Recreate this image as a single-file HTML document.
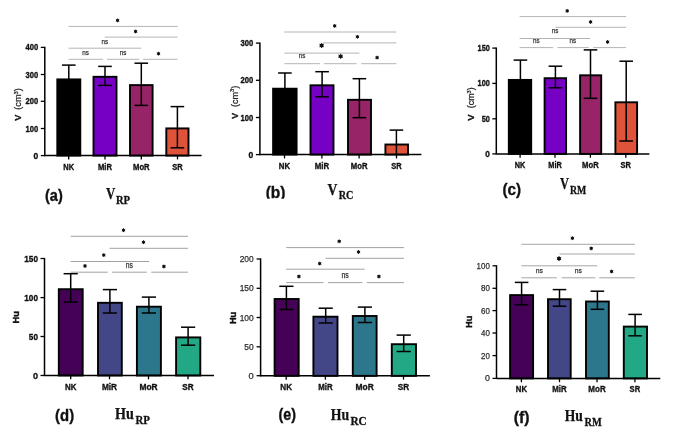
<!DOCTYPE html>
<html><head><meta charset="utf-8"><title>Bar charts</title>
<style>
html,body{margin:0;padding:0;background:#fff;}
body{width:685px;height:441px;overflow:hidden;font-family:"Liberation Sans", sans-serif;}
svg{display:block;will-change:transform;filter:blur(0.35px);}
</style></head><body>
<svg width="685" height="441" viewBox="0 0 685 441">
<defs><clipPath id="clipb"><rect x="250" y="170" width="50" height="28.7"/></clipPath></defs>
<rect x="0" y="0" width="685" height="441" fill="#ffffff"/>
<g>
<rect x="57.3" y="79.4" width="23" height="76.2" fill="#000000" stroke="#000" stroke-width="1.9"/>
<rect x="93.5" y="76.8" width="23" height="78.8" fill="#7600c3" stroke="#000" stroke-width="1.9"/>
<rect x="130" y="85.1" width="22.6" height="70.5" fill="#962466" stroke="#000" stroke-width="1.9"/>
<rect x="166.3" y="128.4" width="22.2" height="27.2" fill="#df533a" stroke="#000" stroke-width="1.9"/>
<line x1="68.8" y1="65.1" x2="68.8" y2="155.6" stroke="#000" stroke-width="1.5" stroke-linecap="butt"/>
<line x1="62" y1="65.1" x2="75.6" y2="65.1" stroke="#000" stroke-width="1.5" stroke-linecap="butt"/>
<line x1="105" y1="66.4" x2="105" y2="85.4" stroke="#000" stroke-width="1.5" stroke-linecap="butt"/>
<line x1="98.2" y1="66.4" x2="111.8" y2="66.4" stroke="#000" stroke-width="1.5" stroke-linecap="butt"/>
<line x1="98.2" y1="85.4" x2="111.8" y2="85.4" stroke="#000" stroke-width="1.5" stroke-linecap="butt"/>
<line x1="141.3" y1="63.2" x2="141.3" y2="105.4" stroke="#000" stroke-width="1.5" stroke-linecap="butt"/>
<line x1="134.5" y1="63.2" x2="148.1" y2="63.2" stroke="#000" stroke-width="1.5" stroke-linecap="butt"/>
<line x1="134.5" y1="105.4" x2="148.1" y2="105.4" stroke="#000" stroke-width="1.5" stroke-linecap="butt"/>
<line x1="177.4" y1="106.6" x2="177.4" y2="147.8" stroke="#000" stroke-width="1.5" stroke-linecap="butt"/>
<line x1="170.6" y1="106.6" x2="184.2" y2="106.6" stroke="#000" stroke-width="1.5" stroke-linecap="butt"/>
<line x1="170.6" y1="147.8" x2="184.2" y2="147.8" stroke="#000" stroke-width="1.5" stroke-linecap="butt"/>
<line x1="44.8" y1="46.8" x2="44.8" y2="156.2" stroke="#000" stroke-width="1.5" stroke-linecap="butt"/>
<line x1="44.8" y1="155.6" x2="201.6" y2="155.6" stroke="#000" stroke-width="1.5" stroke-linecap="butt"/>
<line x1="40.8" y1="47.4" x2="44.8" y2="47.4" stroke="#000" stroke-width="1.3" stroke-linecap="butt"/>
<text x="38.3" y="50.48" font-size="9.4" font-weight="bold" text-anchor="end" fill="#111" font-family='"Liberation Sans", sans-serif' textLength="12.7" lengthAdjust="spacingAndGlyphs" stroke="#111" stroke-width="0.35">400</text>
<line x1="40.8" y1="74.5" x2="44.8" y2="74.5" stroke="#000" stroke-width="1.3" stroke-linecap="butt"/>
<text x="38.3" y="77.58" font-size="9.4" font-weight="bold" text-anchor="end" fill="#111" font-family='"Liberation Sans", sans-serif' textLength="12.7" lengthAdjust="spacingAndGlyphs" stroke="#111" stroke-width="0.35">300</text>
<line x1="40.8" y1="101.3" x2="44.8" y2="101.3" stroke="#000" stroke-width="1.3" stroke-linecap="butt"/>
<text x="38.3" y="104.38" font-size="9.4" font-weight="bold" text-anchor="end" fill="#111" font-family='"Liberation Sans", sans-serif' textLength="12.7" lengthAdjust="spacingAndGlyphs" stroke="#111" stroke-width="0.35">200</text>
<line x1="40.8" y1="128.5" x2="44.8" y2="128.5" stroke="#000" stroke-width="1.3" stroke-linecap="butt"/>
<text x="38.3" y="131.58" font-size="9.4" font-weight="bold" text-anchor="end" fill="#111" font-family='"Liberation Sans", sans-serif' textLength="12.7" lengthAdjust="spacingAndGlyphs" stroke="#111" stroke-width="0.35">100</text>
<line x1="40.8" y1="155.6" x2="44.8" y2="155.6" stroke="#000" stroke-width="1.3" stroke-linecap="butt"/>
<text x="38.3" y="158.68" font-size="9.4" font-weight="bold" text-anchor="end" fill="#111" font-family='"Liberation Sans", sans-serif' textLength="4.73" lengthAdjust="spacingAndGlyphs" stroke="#111" stroke-width="0.35">0</text>
<line x1="68.7" y1="155.6" x2="68.7" y2="159.4" stroke="#000" stroke-width="1.3" stroke-linecap="butt"/>
<text x="68.7" y="169.7" font-size="9" font-weight="bold" text-anchor="middle" fill="#111" font-family='"Liberation Sans", sans-serif' textLength="10.8" lengthAdjust="spacingAndGlyphs" stroke="#111" stroke-width="0.35">NK</text>
<line x1="105" y1="155.6" x2="105" y2="159.4" stroke="#000" stroke-width="1.3" stroke-linecap="butt"/>
<text x="105" y="169.7" font-size="9" font-weight="bold" text-anchor="middle" fill="#111" font-family='"Liberation Sans", sans-serif' textLength="14" lengthAdjust="spacingAndGlyphs" stroke="#111" stroke-width="0.35">MiR</text>
<line x1="141.3" y1="155.6" x2="141.3" y2="159.4" stroke="#000" stroke-width="1.3" stroke-linecap="butt"/>
<text x="141.3" y="169.7" font-size="9" font-weight="bold" text-anchor="middle" fill="#111" font-family='"Liberation Sans", sans-serif' textLength="16.6" lengthAdjust="spacingAndGlyphs" stroke="#111" stroke-width="0.35">MoR</text>
<line x1="177.5" y1="155.6" x2="177.5" y2="159.4" stroke="#000" stroke-width="1.3" stroke-linecap="butt"/>
<text x="177.5" y="169.7" font-size="9" font-weight="bold" text-anchor="middle" fill="#111" font-family='"Liberation Sans", sans-serif' textLength="10.4" lengthAdjust="spacingAndGlyphs" stroke="#111" stroke-width="0.35">SR</text>
<line x1="68.6" y1="26.4" x2="177.6" y2="26.4" stroke="#b4b4b4" stroke-width="1" stroke-linecap="butt"/>
<line x1="104.8" y1="37.1" x2="177.6" y2="37.1" stroke="#b4b4b4" stroke-width="1" stroke-linecap="butt"/>
<line x1="68.6" y1="48.2" x2="141.2" y2="48.2" stroke="#b4b4b4" stroke-width="1" stroke-linecap="butt"/>
<line x1="68.6" y1="59.3" x2="102.9" y2="59.3" stroke="#b4b4b4" stroke-width="1" stroke-linecap="butt"/>
<line x1="107" y1="59.3" x2="139.1" y2="59.3" stroke="#b4b4b4" stroke-width="1" stroke-linecap="butt"/>
<line x1="143.1" y1="59.3" x2="177.6" y2="59.3" stroke="#b4b4b4" stroke-width="1" stroke-linecap="butt"/>
<circle cx="117.6" cy="20.4" r="1.42" fill="#111"/>
<line x1="117.6" y1="18.5" x2="117.6" y2="22.3" stroke="#111" stroke-width="0.9" stroke-linecap="butt"/>
<line x1="119.25" y1="19.45" x2="115.95" y2="21.35" stroke="#111" stroke-width="0.9" stroke-linecap="butt"/>
<line x1="119.25" y1="21.35" x2="115.95" y2="19.45" stroke="#111" stroke-width="0.9" stroke-linecap="butt"/>
<circle cx="135.6" cy="31.5" r="1.42" fill="#111"/>
<line x1="135.6" y1="29.6" x2="135.6" y2="33.4" stroke="#111" stroke-width="0.9" stroke-linecap="butt"/>
<line x1="137.25" y1="30.55" x2="133.95" y2="32.45" stroke="#111" stroke-width="0.9" stroke-linecap="butt"/>
<line x1="137.25" y1="32.45" x2="133.95" y2="30.55" stroke="#111" stroke-width="0.9" stroke-linecap="butt"/>
<text x="104.9" y="43.58" font-size="7.6" font-weight="normal" text-anchor="middle" fill="#333" font-family='"Liberation Sans", sans-serif' textLength="6.6" lengthAdjust="spacingAndGlyphs" stroke="#333" stroke-width="0.25">ns</text>
<text x="85.6" y="54.68" font-size="7.6" font-weight="normal" text-anchor="middle" fill="#333" font-family='"Liberation Sans", sans-serif' textLength="6.6" lengthAdjust="spacingAndGlyphs" stroke="#333" stroke-width="0.25">ns</text>
<text x="123" y="54.88" font-size="7.6" font-weight="normal" text-anchor="middle" fill="#333" font-family='"Liberation Sans", sans-serif' textLength="6.6" lengthAdjust="spacingAndGlyphs" stroke="#333" stroke-width="0.25">ns</text>
<circle cx="158.5" cy="53.7" r="1.42" fill="#111"/>
<line x1="158.5" y1="51.8" x2="158.5" y2="55.6" stroke="#111" stroke-width="0.9" stroke-linecap="butt"/>
<line x1="160.15" y1="52.75" x2="156.85" y2="54.65" stroke="#111" stroke-width="0.9" stroke-linecap="butt"/>
<line x1="160.15" y1="54.65" x2="156.85" y2="52.75" stroke="#111" stroke-width="0.9" stroke-linecap="butt"/>
<text transform="translate(21.2,120.8) rotate(-90)" font-family='"Liberation Sans", sans-serif' font-size="9.7" font-weight="bold" fill="#111" stroke="#111" stroke-width="0.3" textLength="6.2" lengthAdjust="spacingAndGlyphs">V</text><text transform="translate(21.2,109.7) rotate(-90)" font-family='"Liberation Sans", sans-serif' font-size="9.12" fill="#222" stroke="#222" stroke-width="0.25" textLength="21.5" lengthAdjust="spacingAndGlyphs">(cm<tspan font-size="5.76" dy="-3.3">3</tspan><tspan dy="3.3">)</tspan></text>
<text x="45" y="200.5" font-family='"Liberation Sans", sans-serif' font-size="16" font-weight="bold" fill="#111" stroke="#111" stroke-width="0.35" textLength="17.8" lengthAdjust="spacingAndGlyphs">(a)</text><text x="106" y="198.5" font-family='"Liberation Serif", serif' font-size="15.8" font-weight="bold" fill="#111" stroke="#111" stroke-width="0.25" textLength="9.3" lengthAdjust="spacingAndGlyphs">V</text><text x="115.9" y="203.9" font-family='"Liberation Serif", serif' font-size="11.9" font-weight="bold" fill="#111" stroke="#111" stroke-width="0.3" textLength="14.1" lengthAdjust="spacingAndGlyphs">RP</text>
</g>
<g>
<rect x="273.1" y="88.7" width="23.5" height="65.9" fill="#000000" stroke="#000" stroke-width="1.9"/>
<rect x="310.5" y="85.3" width="23" height="69.3" fill="#7600c3" stroke="#000" stroke-width="1.9"/>
<rect x="348" y="99.8" width="23" height="54.8" fill="#962466" stroke="#000" stroke-width="1.9"/>
<rect x="385.4" y="144.5" width="22.6" height="10.1" fill="#df533a" stroke="#000" stroke-width="1.9"/>
<line x1="284.9" y1="73" x2="284.9" y2="154.6" stroke="#000" stroke-width="1.5" stroke-linecap="butt"/>
<line x1="278.1" y1="73" x2="291.7" y2="73" stroke="#000" stroke-width="1.5" stroke-linecap="butt"/>
<line x1="322.1" y1="71.7" x2="322.1" y2="96.8" stroke="#000" stroke-width="1.5" stroke-linecap="butt"/>
<line x1="315.3" y1="71.7" x2="328.9" y2="71.7" stroke="#000" stroke-width="1.5" stroke-linecap="butt"/>
<line x1="315.3" y1="96.8" x2="328.9" y2="96.8" stroke="#000" stroke-width="1.5" stroke-linecap="butt"/>
<line x1="359.4" y1="78.7" x2="359.4" y2="117.7" stroke="#000" stroke-width="1.5" stroke-linecap="butt"/>
<line x1="352.6" y1="78.7" x2="366.2" y2="78.7" stroke="#000" stroke-width="1.5" stroke-linecap="butt"/>
<line x1="352.6" y1="117.7" x2="366.2" y2="117.7" stroke="#000" stroke-width="1.5" stroke-linecap="butt"/>
<line x1="396.4" y1="130.1" x2="396.4" y2="154.6" stroke="#000" stroke-width="1.5" stroke-linecap="butt"/>
<line x1="389.6" y1="130.1" x2="403.2" y2="130.1" stroke="#000" stroke-width="1.5" stroke-linecap="butt"/>
<line x1="259.9" y1="42.5" x2="259.9" y2="155.2" stroke="#000" stroke-width="1.5" stroke-linecap="butt"/>
<line x1="259.9" y1="154.6" x2="421.4" y2="154.6" stroke="#000" stroke-width="1.5" stroke-linecap="butt"/>
<line x1="255.9" y1="43.1" x2="259.9" y2="43.1" stroke="#000" stroke-width="1.3" stroke-linecap="butt"/>
<text x="253.3" y="46.18" font-size="9.4" font-weight="bold" text-anchor="end" fill="#111" font-family='"Liberation Sans", sans-serif' textLength="12.8" lengthAdjust="spacingAndGlyphs" stroke="#111" stroke-width="0.35">300</text>
<line x1="255.9" y1="80.3" x2="259.9" y2="80.3" stroke="#000" stroke-width="1.3" stroke-linecap="butt"/>
<text x="253.3" y="83.38" font-size="9.4" font-weight="bold" text-anchor="end" fill="#111" font-family='"Liberation Sans", sans-serif' textLength="12.8" lengthAdjust="spacingAndGlyphs" stroke="#111" stroke-width="0.35">200</text>
<line x1="255.9" y1="117.5" x2="259.9" y2="117.5" stroke="#000" stroke-width="1.3" stroke-linecap="butt"/>
<text x="253.3" y="120.58" font-size="9.4" font-weight="bold" text-anchor="end" fill="#111" font-family='"Liberation Sans", sans-serif' textLength="12.8" lengthAdjust="spacingAndGlyphs" stroke="#111" stroke-width="0.35">100</text>
<line x1="255.9" y1="154.6" x2="259.9" y2="154.6" stroke="#000" stroke-width="1.3" stroke-linecap="butt"/>
<text x="253.3" y="157.68" font-size="9.4" font-weight="bold" text-anchor="end" fill="#111" font-family='"Liberation Sans", sans-serif' textLength="4.77" lengthAdjust="spacingAndGlyphs" stroke="#111" stroke-width="0.35">0</text>
<line x1="284.5" y1="154.6" x2="284.5" y2="158.4" stroke="#000" stroke-width="1.3" stroke-linecap="butt"/>
<text x="284.5" y="168.8" font-size="9" font-weight="bold" text-anchor="middle" fill="#111" font-family='"Liberation Sans", sans-serif' textLength="11.3" lengthAdjust="spacingAndGlyphs" stroke="#111" stroke-width="0.35">NK</text>
<line x1="321.9" y1="154.6" x2="321.9" y2="158.4" stroke="#000" stroke-width="1.3" stroke-linecap="butt"/>
<text x="321.9" y="168.8" font-size="9" font-weight="bold" text-anchor="middle" fill="#111" font-family='"Liberation Sans", sans-serif' textLength="14.4" lengthAdjust="spacingAndGlyphs" stroke="#111" stroke-width="0.35">MiR</text>
<line x1="359.1" y1="154.6" x2="359.1" y2="158.4" stroke="#000" stroke-width="1.3" stroke-linecap="butt"/>
<text x="359.1" y="168.8" font-size="9" font-weight="bold" text-anchor="middle" fill="#111" font-family='"Liberation Sans", sans-serif' textLength="16.7" lengthAdjust="spacingAndGlyphs" stroke="#111" stroke-width="0.35">MoR</text>
<line x1="396.5" y1="154.6" x2="396.5" y2="158.4" stroke="#000" stroke-width="1.3" stroke-linecap="butt"/>
<text x="396.5" y="168.8" font-size="9" font-weight="bold" text-anchor="middle" fill="#111" font-family='"Liberation Sans", sans-serif' textLength="10.4" lengthAdjust="spacingAndGlyphs" stroke="#111" stroke-width="0.35">SR</text>
<line x1="284.4" y1="32" x2="396.4" y2="32" stroke="#b4b4b4" stroke-width="1" stroke-linecap="butt"/>
<line x1="323" y1="42.9" x2="396.4" y2="42.9" stroke="#b4b4b4" stroke-width="1" stroke-linecap="butt"/>
<line x1="284.4" y1="53.1" x2="359.4" y2="53.1" stroke="#b4b4b4" stroke-width="1" stroke-linecap="butt"/>
<line x1="284.4" y1="63.7" x2="320" y2="63.7" stroke="#b4b4b4" stroke-width="1" stroke-linecap="butt"/>
<line x1="323.8" y1="63.7" x2="356.7" y2="63.7" stroke="#b4b4b4" stroke-width="1" stroke-linecap="butt"/>
<line x1="361.2" y1="63.7" x2="396.4" y2="63.7" stroke="#b4b4b4" stroke-width="1" stroke-linecap="butt"/>
<circle cx="334.7" cy="25.9" r="1.42" fill="#111"/>
<line x1="334.7" y1="24" x2="334.7" y2="27.8" stroke="#111" stroke-width="0.9" stroke-linecap="butt"/>
<line x1="336.35" y1="24.95" x2="333.05" y2="26.85" stroke="#111" stroke-width="0.9" stroke-linecap="butt"/>
<line x1="336.35" y1="26.85" x2="333.05" y2="24.95" stroke="#111" stroke-width="0.9" stroke-linecap="butt"/>
<circle cx="357.4" cy="36.8" r="1.42" fill="#111"/>
<line x1="357.4" y1="34.9" x2="357.4" y2="38.7" stroke="#111" stroke-width="0.9" stroke-linecap="butt"/>
<line x1="359.05" y1="35.85" x2="355.75" y2="37.75" stroke="#111" stroke-width="0.9" stroke-linecap="butt"/>
<line x1="359.05" y1="37.75" x2="355.75" y2="35.85" stroke="#111" stroke-width="0.9" stroke-linecap="butt"/>
<circle cx="321.6" cy="45.5" r="1.88" fill="#111"/>
<line x1="321.6" y1="43" x2="321.6" y2="48" stroke="#111" stroke-width="0.9" stroke-linecap="butt"/>
<line x1="323.77" y1="44.25" x2="319.43" y2="46.75" stroke="#111" stroke-width="0.9" stroke-linecap="butt"/>
<line x1="323.77" y1="46.75" x2="319.43" y2="44.25" stroke="#111" stroke-width="0.9" stroke-linecap="butt"/>
<text x="302.1" y="58.48" font-size="7.6" font-weight="normal" text-anchor="middle" fill="#333" font-family='"Liberation Sans", sans-serif' textLength="6.6" lengthAdjust="spacingAndGlyphs" stroke="#333" stroke-width="0.25">ns</text>
<circle cx="340.6" cy="56.3" r="1.88" fill="#111"/>
<line x1="340.6" y1="53.8" x2="340.6" y2="58.8" stroke="#111" stroke-width="0.9" stroke-linecap="butt"/>
<line x1="342.77" y1="55.05" x2="338.43" y2="57.55" stroke="#111" stroke-width="0.9" stroke-linecap="butt"/>
<line x1="342.77" y1="57.55" x2="338.43" y2="55.05" stroke="#111" stroke-width="0.9" stroke-linecap="butt"/>
<circle cx="377.1" cy="57.6" r="1.42" fill="#111"/>
<line x1="377.1" y1="55.7" x2="377.1" y2="59.5" stroke="#111" stroke-width="0.9" stroke-linecap="butt"/>
<line x1="378.75" y1="56.65" x2="375.45" y2="58.55" stroke="#111" stroke-width="0.9" stroke-linecap="butt"/>
<line x1="378.75" y1="58.55" x2="375.45" y2="56.65" stroke="#111" stroke-width="0.9" stroke-linecap="butt"/>
<text transform="translate(237.5,118.7) rotate(-90)" font-family='"Liberation Sans", sans-serif' font-size="9.8" font-weight="bold" fill="#111" stroke="#111" stroke-width="0.3" textLength="5.8" lengthAdjust="spacingAndGlyphs">V</text><text transform="translate(237.5,107) rotate(-90)" font-family='"Liberation Sans", sans-serif' font-size="9.12" fill="#222" stroke="#222" stroke-width="0.25" textLength="21.3" lengthAdjust="spacingAndGlyphs">(cm<tspan font-size="5.76" dy="-3.3">3</tspan><tspan dy="3.3">)</tspan></text>
<text x="265.7" y="198.2" font-family='"Liberation Sans", sans-serif' font-size="16" font-weight="bold" fill="#111" stroke="#111" stroke-width="0.35" textLength="19.8" lengthAdjust="spacingAndGlyphs" clip-path="url(#clipb)">(b)</text><text x="327.5" y="194.5" font-family='"Liberation Serif", serif' font-size="15.8" font-weight="bold" fill="#111" stroke="#111" stroke-width="0.25" textLength="9.9" lengthAdjust="spacingAndGlyphs">V</text><text x="338.7" y="199.2" font-family='"Liberation Serif", serif' font-size="11.9" font-weight="bold" fill="#111" stroke="#111" stroke-width="0.3" textLength="14.7" lengthAdjust="spacingAndGlyphs">RC</text>
</g>
<g>
<rect x="508.8" y="79.9" width="22.4" height="74" fill="#000000" stroke="#000" stroke-width="1.9"/>
<rect x="544.6" y="78.2" width="21.5" height="75.7" fill="#7600c3" stroke="#000" stroke-width="1.9"/>
<rect x="580.1" y="75.3" width="21.1" height="78.6" fill="#962466" stroke="#000" stroke-width="1.9"/>
<rect x="615.4" y="102.3" width="21.7" height="51.6" fill="#df533a" stroke="#000" stroke-width="1.9"/>
<line x1="520.4" y1="60.1" x2="520.4" y2="153.9" stroke="#000" stroke-width="1.5" stroke-linecap="butt"/>
<line x1="513.6" y1="60.1" x2="527.2" y2="60.1" stroke="#000" stroke-width="1.5" stroke-linecap="butt"/>
<line x1="555.4" y1="66.2" x2="555.4" y2="87.8" stroke="#000" stroke-width="1.5" stroke-linecap="butt"/>
<line x1="548.6" y1="66.2" x2="562.2" y2="66.2" stroke="#000" stroke-width="1.5" stroke-linecap="butt"/>
<line x1="548.6" y1="87.8" x2="562.2" y2="87.8" stroke="#000" stroke-width="1.5" stroke-linecap="butt"/>
<line x1="590.5" y1="49.9" x2="590.5" y2="98.3" stroke="#000" stroke-width="1.5" stroke-linecap="butt"/>
<line x1="583.7" y1="49.9" x2="597.3" y2="49.9" stroke="#000" stroke-width="1.5" stroke-linecap="butt"/>
<line x1="583.7" y1="98.3" x2="597.3" y2="98.3" stroke="#000" stroke-width="1.5" stroke-linecap="butt"/>
<line x1="626.2" y1="61.2" x2="626.2" y2="141" stroke="#000" stroke-width="1.5" stroke-linecap="butt"/>
<line x1="619.4" y1="61.2" x2="633" y2="61.2" stroke="#000" stroke-width="1.5" stroke-linecap="butt"/>
<line x1="619.4" y1="141" x2="633" y2="141" stroke="#000" stroke-width="1.5" stroke-linecap="butt"/>
<line x1="496.3" y1="47.5" x2="496.3" y2="154.5" stroke="#000" stroke-width="1.5" stroke-linecap="butt"/>
<line x1="496.3" y1="153.9" x2="649.4" y2="153.9" stroke="#000" stroke-width="1.5" stroke-linecap="butt"/>
<line x1="492.3" y1="48.1" x2="496.3" y2="48.1" stroke="#000" stroke-width="1.3" stroke-linecap="butt"/>
<text x="489.9" y="51.18" font-size="9.4" font-weight="bold" text-anchor="end" fill="#111" font-family='"Liberation Sans", sans-serif' textLength="12.3" lengthAdjust="spacingAndGlyphs" stroke="#111" stroke-width="0.35">150</text>
<line x1="492.3" y1="83.4" x2="496.3" y2="83.4" stroke="#000" stroke-width="1.3" stroke-linecap="butt"/>
<text x="489.9" y="86.48" font-size="9.4" font-weight="bold" text-anchor="end" fill="#111" font-family='"Liberation Sans", sans-serif' textLength="12.3" lengthAdjust="spacingAndGlyphs" stroke="#111" stroke-width="0.35">100</text>
<line x1="492.3" y1="118.8" x2="496.3" y2="118.8" stroke="#000" stroke-width="1.3" stroke-linecap="butt"/>
<text x="489.9" y="121.88" font-size="9.4" font-weight="bold" text-anchor="end" fill="#111" font-family='"Liberation Sans", sans-serif' textLength="8.2" lengthAdjust="spacingAndGlyphs" stroke="#111" stroke-width="0.35">50</text>
<line x1="492.3" y1="153.9" x2="496.3" y2="153.9" stroke="#000" stroke-width="1.3" stroke-linecap="butt"/>
<text x="489.9" y="156.98" font-size="9.4" font-weight="bold" text-anchor="end" fill="#111" font-family='"Liberation Sans", sans-serif' textLength="4.6" lengthAdjust="spacingAndGlyphs" stroke="#111" stroke-width="0.35">0</text>
<line x1="520.1" y1="153.9" x2="520.1" y2="157.7" stroke="#000" stroke-width="1.3" stroke-linecap="butt"/>
<text x="520.1" y="167.6" font-size="9" font-weight="bold" text-anchor="middle" fill="#111" font-family='"Liberation Sans", sans-serif' textLength="10.5" lengthAdjust="spacingAndGlyphs" stroke="#111" stroke-width="0.35">NK</text>
<line x1="555" y1="153.9" x2="555" y2="157.7" stroke="#000" stroke-width="1.3" stroke-linecap="butt"/>
<text x="555" y="167.6" font-size="9" font-weight="bold" text-anchor="middle" fill="#111" font-family='"Liberation Sans", sans-serif' textLength="13.4" lengthAdjust="spacingAndGlyphs" stroke="#111" stroke-width="0.35">MiR</text>
<line x1="590.4" y1="153.9" x2="590.4" y2="157.7" stroke="#000" stroke-width="1.3" stroke-linecap="butt"/>
<text x="590.4" y="167.6" font-size="9" font-weight="bold" text-anchor="middle" fill="#111" font-family='"Liberation Sans", sans-serif' textLength="16.6" lengthAdjust="spacingAndGlyphs" stroke="#111" stroke-width="0.35">MoR</text>
<line x1="625.8" y1="153.9" x2="625.8" y2="157.7" stroke="#000" stroke-width="1.3" stroke-linecap="butt"/>
<text x="625.8" y="167.6" font-size="9" font-weight="bold" text-anchor="middle" fill="#111" font-family='"Liberation Sans", sans-serif' textLength="10.4" lengthAdjust="spacingAndGlyphs" stroke="#111" stroke-width="0.35">SR</text>
<line x1="519.6" y1="16.6" x2="626.2" y2="16.6" stroke="#b4b4b4" stroke-width="1" stroke-linecap="butt"/>
<line x1="555.4" y1="27.3" x2="626.2" y2="27.3" stroke="#b4b4b4" stroke-width="1" stroke-linecap="butt"/>
<line x1="519.6" y1="38.5" x2="590.3" y2="38.5" stroke="#b4b4b4" stroke-width="1" stroke-linecap="butt"/>
<line x1="519.6" y1="47.6" x2="553.2" y2="47.6" stroke="#b4b4b4" stroke-width="1" stroke-linecap="butt"/>
<line x1="557.5" y1="47.6" x2="588.8" y2="47.6" stroke="#b4b4b4" stroke-width="1" stroke-linecap="butt"/>
<line x1="593.3" y1="47.6" x2="626.2" y2="47.6" stroke="#b4b4b4" stroke-width="1" stroke-linecap="butt"/>
<circle cx="567.2" cy="10.9" r="1.42" fill="#111"/>
<line x1="567.2" y1="9" x2="567.2" y2="12.8" stroke="#111" stroke-width="0.9" stroke-linecap="butt"/>
<line x1="568.85" y1="9.95" x2="565.55" y2="11.85" stroke="#111" stroke-width="0.9" stroke-linecap="butt"/>
<line x1="568.85" y1="11.85" x2="565.55" y2="9.95" stroke="#111" stroke-width="0.9" stroke-linecap="butt"/>
<circle cx="590.6" cy="22" r="1.42" fill="#111"/>
<line x1="590.6" y1="20.1" x2="590.6" y2="23.9" stroke="#111" stroke-width="0.9" stroke-linecap="butt"/>
<line x1="592.25" y1="21.05" x2="588.95" y2="22.95" stroke="#111" stroke-width="0.9" stroke-linecap="butt"/>
<line x1="592.25" y1="22.95" x2="588.95" y2="21.05" stroke="#111" stroke-width="0.9" stroke-linecap="butt"/>
<text x="555" y="33.48" font-size="7.6" font-weight="normal" text-anchor="middle" fill="#333" font-family='"Liberation Sans", sans-serif' textLength="6.6" lengthAdjust="spacingAndGlyphs" stroke="#333" stroke-width="0.25">ns</text>
<text x="536.4" y="42.78" font-size="7.6" font-weight="normal" text-anchor="middle" fill="#333" font-family='"Liberation Sans", sans-serif' textLength="6.6" lengthAdjust="spacingAndGlyphs" stroke="#333" stroke-width="0.25">ns</text>
<text x="572.9" y="42.78" font-size="7.6" font-weight="normal" text-anchor="middle" fill="#333" font-family='"Liberation Sans", sans-serif' textLength="6.6" lengthAdjust="spacingAndGlyphs" stroke="#333" stroke-width="0.25">ns</text>
<circle cx="607.6" cy="42" r="1.42" fill="#111"/>
<line x1="607.6" y1="40.1" x2="607.6" y2="43.9" stroke="#111" stroke-width="0.9" stroke-linecap="butt"/>
<line x1="609.25" y1="41.05" x2="605.95" y2="42.95" stroke="#111" stroke-width="0.9" stroke-linecap="butt"/>
<line x1="609.25" y1="42.95" x2="605.95" y2="41.05" stroke="#111" stroke-width="0.9" stroke-linecap="butt"/>
<text transform="translate(473.8,120.7) rotate(-90)" font-family='"Liberation Sans", sans-serif' font-size="9.7" font-weight="bold" fill="#111" stroke="#111" stroke-width="0.3" textLength="6.4" lengthAdjust="spacingAndGlyphs">V</text><text transform="translate(473.8,108.2) rotate(-90)" font-family='"Liberation Sans", sans-serif' font-size="9.12" fill="#222" stroke="#222" stroke-width="0.25" textLength="20.9" lengthAdjust="spacingAndGlyphs">(cm<tspan font-size="5.76" dy="-3.3">3</tspan><tspan dy="3.3">)</tspan></text>
<text x="502.4" y="194.5" font-family='"Liberation Sans", sans-serif' font-size="16" font-weight="bold" fill="#111" stroke="#111" stroke-width="0.35" textLength="18.6" lengthAdjust="spacingAndGlyphs">(c)</text><text x="559.9" y="189.1" font-family='"Liberation Serif", serif' font-size="15.8" font-weight="bold" fill="#111" stroke="#111" stroke-width="0.25" textLength="9" lengthAdjust="spacingAndGlyphs">V</text><text x="569.9" y="194.2" font-family='"Liberation Serif", serif' font-size="11.9" font-weight="bold" fill="#111" stroke="#111" stroke-width="0.3" textLength="16.3" lengthAdjust="spacingAndGlyphs">RM</text>
</g>
<g>
<rect x="58.8" y="289.2" width="23.9" height="86.3" fill="#450155" stroke="#000" stroke-width="1.9"/>
<rect x="98" y="302.8" width="23.8" height="72.7" fill="#434788" stroke="#000" stroke-width="1.9"/>
<rect x="136.9" y="306.7" width="24" height="68.8" fill="#2d778c" stroke="#000" stroke-width="1.9"/>
<rect x="176.1" y="337.4" width="24.2" height="38.1" fill="#22a884" stroke="#000" stroke-width="1.9"/>
<line x1="70.7" y1="273.7" x2="70.7" y2="302.1" stroke="#000" stroke-width="1.5" stroke-linecap="butt"/>
<line x1="63.6" y1="273.7" x2="77.8" y2="273.7" stroke="#000" stroke-width="1.5" stroke-linecap="butt"/>
<line x1="63.6" y1="302.1" x2="77.8" y2="302.1" stroke="#000" stroke-width="1.5" stroke-linecap="butt"/>
<line x1="109.9" y1="289.6" x2="109.9" y2="313" stroke="#000" stroke-width="1.5" stroke-linecap="butt"/>
<line x1="102.8" y1="289.6" x2="117" y2="289.6" stroke="#000" stroke-width="1.5" stroke-linecap="butt"/>
<line x1="102.8" y1="313" x2="117" y2="313" stroke="#000" stroke-width="1.5" stroke-linecap="butt"/>
<line x1="148.9" y1="297.1" x2="148.9" y2="313" stroke="#000" stroke-width="1.5" stroke-linecap="butt"/>
<line x1="141.8" y1="297.1" x2="156" y2="297.1" stroke="#000" stroke-width="1.5" stroke-linecap="butt"/>
<line x1="141.8" y1="313" x2="156" y2="313" stroke="#000" stroke-width="1.5" stroke-linecap="butt"/>
<line x1="188.1" y1="327.2" x2="188.1" y2="345.2" stroke="#000" stroke-width="1.5" stroke-linecap="butt"/>
<line x1="181" y1="327.2" x2="195.2" y2="327.2" stroke="#000" stroke-width="1.5" stroke-linecap="butt"/>
<line x1="181" y1="345.2" x2="195.2" y2="345.2" stroke="#000" stroke-width="1.5" stroke-linecap="butt"/>
<line x1="44.5" y1="257.9" x2="44.5" y2="376.1" stroke="#000" stroke-width="1.5" stroke-linecap="butt"/>
<line x1="44.5" y1="375.5" x2="214" y2="375.5" stroke="#000" stroke-width="1.5" stroke-linecap="butt"/>
<line x1="40.5" y1="258.5" x2="44.5" y2="258.5" stroke="#000" stroke-width="1.3" stroke-linecap="butt"/>
<text x="38" y="261.58" font-size="9.4" font-weight="bold" text-anchor="end" fill="#111" font-family='"Liberation Sans", sans-serif' textLength="13.7" lengthAdjust="spacingAndGlyphs" stroke="#111" stroke-width="0.35">150</text>
<line x1="40.5" y1="297.6" x2="44.5" y2="297.6" stroke="#000" stroke-width="1.3" stroke-linecap="butt"/>
<text x="38" y="300.68" font-size="9.4" font-weight="bold" text-anchor="end" fill="#111" font-family='"Liberation Sans", sans-serif' textLength="13.7" lengthAdjust="spacingAndGlyphs" stroke="#111" stroke-width="0.35">100</text>
<line x1="40.5" y1="336.5" x2="44.5" y2="336.5" stroke="#000" stroke-width="1.3" stroke-linecap="butt"/>
<text x="38" y="339.58" font-size="9.4" font-weight="bold" text-anchor="end" fill="#111" font-family='"Liberation Sans", sans-serif' textLength="9.13" lengthAdjust="spacingAndGlyphs" stroke="#111" stroke-width="0.35">50</text>
<line x1="40.5" y1="375.5" x2="44.5" y2="375.5" stroke="#000" stroke-width="1.3" stroke-linecap="butt"/>
<text x="38" y="378.58" font-size="9.4" font-weight="bold" text-anchor="end" fill="#111" font-family='"Liberation Sans", sans-serif' textLength="5.07" lengthAdjust="spacingAndGlyphs" stroke="#111" stroke-width="0.35">0</text>
<line x1="70.7" y1="375.5" x2="70.7" y2="379.3" stroke="#000" stroke-width="1.3" stroke-linecap="butt"/>
<text x="70.7" y="390.2" font-size="9.6" font-weight="bold" text-anchor="middle" fill="#111" font-family='"Liberation Sans", sans-serif' textLength="11.4" lengthAdjust="spacingAndGlyphs" stroke="#111" stroke-width="0.35">NK</text>
<line x1="109.5" y1="375.5" x2="109.5" y2="379.3" stroke="#000" stroke-width="1.3" stroke-linecap="butt"/>
<text x="109.5" y="390.2" font-size="9.6" font-weight="bold" text-anchor="middle" fill="#111" font-family='"Liberation Sans", sans-serif' textLength="15.2" lengthAdjust="spacingAndGlyphs" stroke="#111" stroke-width="0.35">MiR</text>
<line x1="148.5" y1="375.5" x2="148.5" y2="379.3" stroke="#000" stroke-width="1.3" stroke-linecap="butt"/>
<text x="148.5" y="390.2" font-size="9.6" font-weight="bold" text-anchor="middle" fill="#111" font-family='"Liberation Sans", sans-serif' textLength="18.2" lengthAdjust="spacingAndGlyphs" stroke="#111" stroke-width="0.35">MoR</text>
<line x1="188" y1="375.5" x2="188" y2="379.3" stroke="#000" stroke-width="1.3" stroke-linecap="butt"/>
<text x="188" y="390.2" font-size="9.6" font-weight="bold" text-anchor="middle" fill="#111" font-family='"Liberation Sans", sans-serif' textLength="11.3" lengthAdjust="spacingAndGlyphs" stroke="#111" stroke-width="0.35">SR</text>
<line x1="70.7" y1="236.3" x2="188" y2="236.3" stroke="#a2a2a2" stroke-width="1" stroke-linecap="butt"/>
<line x1="109.5" y1="248.3" x2="188" y2="248.3" stroke="#a2a2a2" stroke-width="1" stroke-linecap="butt"/>
<line x1="70.7" y1="261.5" x2="149.2" y2="261.5" stroke="#a2a2a2" stroke-width="1" stroke-linecap="butt"/>
<line x1="70.7" y1="272.2" x2="107.7" y2="272.2" stroke="#a2a2a2" stroke-width="1" stroke-linecap="butt"/>
<line x1="112.2" y1="272.2" x2="146.9" y2="272.2" stroke="#a2a2a2" stroke-width="1" stroke-linecap="butt"/>
<line x1="151.3" y1="272.2" x2="188" y2="272.2" stroke="#a2a2a2" stroke-width="1" stroke-linecap="butt"/>
<circle cx="123.5" cy="230.2" r="1.42" fill="#111"/>
<line x1="123.5" y1="228.3" x2="123.5" y2="232.1" stroke="#111" stroke-width="0.9" stroke-linecap="butt"/>
<line x1="125.15" y1="229.25" x2="121.85" y2="231.15" stroke="#111" stroke-width="0.9" stroke-linecap="butt"/>
<line x1="125.15" y1="231.15" x2="121.85" y2="229.25" stroke="#111" stroke-width="0.9" stroke-linecap="butt"/>
<circle cx="143.5" cy="242.2" r="1.42" fill="#111"/>
<line x1="143.5" y1="240.3" x2="143.5" y2="244.1" stroke="#111" stroke-width="0.9" stroke-linecap="butt"/>
<line x1="145.15" y1="241.25" x2="141.85" y2="243.15" stroke="#111" stroke-width="0.9" stroke-linecap="butt"/>
<line x1="145.15" y1="243.15" x2="141.85" y2="241.25" stroke="#111" stroke-width="0.9" stroke-linecap="butt"/>
<circle cx="103.8" cy="255.1" r="1.42" fill="#111"/>
<line x1="103.8" y1="253.2" x2="103.8" y2="257" stroke="#111" stroke-width="0.9" stroke-linecap="butt"/>
<line x1="105.45" y1="254.15" x2="102.15" y2="256.05" stroke="#111" stroke-width="0.9" stroke-linecap="butt"/>
<line x1="105.45" y1="256.05" x2="102.15" y2="254.15" stroke="#111" stroke-width="0.9" stroke-linecap="butt"/>
<circle cx="85" cy="266" r="1.42" fill="#111"/>
<line x1="85" y1="264.1" x2="85" y2="267.9" stroke="#111" stroke-width="0.9" stroke-linecap="butt"/>
<line x1="86.65" y1="265.05" x2="83.35" y2="266.95" stroke="#111" stroke-width="0.9" stroke-linecap="butt"/>
<line x1="86.65" y1="266.95" x2="83.35" y2="265.05" stroke="#111" stroke-width="0.9" stroke-linecap="butt"/>
<text x="129.3" y="267.56" font-size="8.3" font-weight="normal" text-anchor="middle" fill="#333" font-family='"Liberation Sans", sans-serif' textLength="7.1" lengthAdjust="spacingAndGlyphs" stroke="#333" stroke-width="0.25">ns</text>
<circle cx="163.9" cy="266.5" r="1.42" fill="#111"/>
<line x1="163.9" y1="264.6" x2="163.9" y2="268.4" stroke="#111" stroke-width="0.9" stroke-linecap="butt"/>
<line x1="165.55" y1="265.55" x2="162.25" y2="267.45" stroke="#111" stroke-width="0.9" stroke-linecap="butt"/>
<line x1="165.55" y1="267.45" x2="162.25" y2="265.55" stroke="#111" stroke-width="0.9" stroke-linecap="butt"/>
<text transform="translate(18.8,317.3) rotate(-90)" text-anchor="middle" font-family='"Liberation Sans", sans-serif' font-size="9.3" font-weight="bold" fill="#111" textLength="12.2" lengthAdjust="spacingAndGlyphs" stroke="#111" stroke-width="0.4">Hu</text>
<text x="55.1" y="421" font-family='"Liberation Sans", sans-serif' font-size="16" font-weight="bold" fill="#111" stroke="#111" stroke-width="0.35" textLength="19" lengthAdjust="spacingAndGlyphs">(d)</text><text x="115" y="418.5" font-family='"Liberation Serif", serif' font-size="16.3" font-weight="bold" fill="#111" stroke="#111" stroke-width="0.25" textLength="18.8" lengthAdjust="spacingAndGlyphs">Hu</text><text x="135.4" y="423.9" font-family='"Liberation Serif", serif' font-size="11.9" font-weight="bold" fill="#111" stroke="#111" stroke-width="0.3" textLength="14.4" lengthAdjust="spacingAndGlyphs">RP</text>
</g>
<g>
<rect x="274.6" y="299" width="24.1" height="76.85" fill="#450155" stroke="#000" stroke-width="1.9"/>
<rect x="313.4" y="316.7" width="24.1" height="59.15" fill="#434788" stroke="#000" stroke-width="1.9"/>
<rect x="352.8" y="316" width="23.8" height="59.85" fill="#2d778c" stroke="#000" stroke-width="1.9"/>
<rect x="391.8" y="344.2" width="24.2" height="31.65" fill="#22a884" stroke="#000" stroke-width="1.9"/>
<line x1="286.4" y1="286.3" x2="286.4" y2="309.5" stroke="#000" stroke-width="1.5" stroke-linecap="butt"/>
<line x1="279.3" y1="286.3" x2="293.5" y2="286.3" stroke="#000" stroke-width="1.5" stroke-linecap="butt"/>
<line x1="279.3" y1="309.5" x2="293.5" y2="309.5" stroke="#000" stroke-width="1.5" stroke-linecap="butt"/>
<line x1="325.7" y1="308.2" x2="325.7" y2="323" stroke="#000" stroke-width="1.5" stroke-linecap="butt"/>
<line x1="318.6" y1="308.2" x2="332.8" y2="308.2" stroke="#000" stroke-width="1.5" stroke-linecap="butt"/>
<line x1="318.6" y1="323" x2="332.8" y2="323" stroke="#000" stroke-width="1.5" stroke-linecap="butt"/>
<line x1="364.9" y1="307.1" x2="364.9" y2="322.5" stroke="#000" stroke-width="1.5" stroke-linecap="butt"/>
<line x1="357.8" y1="307.1" x2="372" y2="307.1" stroke="#000" stroke-width="1.5" stroke-linecap="butt"/>
<line x1="357.8" y1="322.5" x2="372" y2="322.5" stroke="#000" stroke-width="1.5" stroke-linecap="butt"/>
<line x1="403.7" y1="335.1" x2="403.7" y2="351.5" stroke="#000" stroke-width="1.5" stroke-linecap="butt"/>
<line x1="396.6" y1="335.1" x2="410.8" y2="335.1" stroke="#000" stroke-width="1.5" stroke-linecap="butt"/>
<line x1="396.6" y1="351.5" x2="410.8" y2="351.5" stroke="#000" stroke-width="1.5" stroke-linecap="butt"/>
<line x1="260.6" y1="258.4" x2="260.6" y2="376.45" stroke="#000" stroke-width="1.5" stroke-linecap="butt"/>
<line x1="260.6" y1="375.85" x2="429.9" y2="375.85" stroke="#000" stroke-width="1.5" stroke-linecap="butt"/>
<line x1="256.6" y1="259" x2="260.6" y2="259" stroke="#000" stroke-width="1.3" stroke-linecap="butt"/>
<text x="253.7" y="262.05" font-size="9.3" font-weight="normal" text-anchor="end" fill="#2a2a2a" font-family='"Liberation Sans", sans-serif' textLength="14" lengthAdjust="spacingAndGlyphs" stroke="#2a2a2a" stroke-width="0.25">200</text>
<line x1="256.6" y1="288.3" x2="260.6" y2="288.3" stroke="#000" stroke-width="1.3" stroke-linecap="butt"/>
<text x="253.7" y="291.35" font-size="9.3" font-weight="normal" text-anchor="end" fill="#2a2a2a" font-family='"Liberation Sans", sans-serif' textLength="14" lengthAdjust="spacingAndGlyphs" stroke="#2a2a2a" stroke-width="0.25">150</text>
<line x1="256.6" y1="317.5" x2="260.6" y2="317.5" stroke="#000" stroke-width="1.3" stroke-linecap="butt"/>
<text x="253.7" y="320.55" font-size="9.3" font-weight="normal" text-anchor="end" fill="#2a2a2a" font-family='"Liberation Sans", sans-serif' textLength="14" lengthAdjust="spacingAndGlyphs" stroke="#2a2a2a" stroke-width="0.25">100</text>
<line x1="256.6" y1="346.8" x2="260.6" y2="346.8" stroke="#000" stroke-width="1.3" stroke-linecap="butt"/>
<text x="253.7" y="349.85" font-size="9.3" font-weight="normal" text-anchor="end" fill="#2a2a2a" font-family='"Liberation Sans", sans-serif' textLength="9.33" lengthAdjust="spacingAndGlyphs" stroke="#2a2a2a" stroke-width="0.25">50</text>
<line x1="256.6" y1="375.7" x2="260.6" y2="375.7" stroke="#000" stroke-width="1.3" stroke-linecap="butt"/>
<text x="253.7" y="378.75" font-size="9.3" font-weight="normal" text-anchor="end" fill="#2a2a2a" font-family='"Liberation Sans", sans-serif' textLength="5.17" lengthAdjust="spacingAndGlyphs" stroke="#2a2a2a" stroke-width="0.25">0</text>
<line x1="286.2" y1="375.85" x2="286.2" y2="379.65" stroke="#000" stroke-width="1.3" stroke-linecap="butt"/>
<text x="286.2" y="390.2" font-size="9.6" font-weight="bold" text-anchor="middle" fill="#111" font-family='"Liberation Sans", sans-serif' textLength="11.7" lengthAdjust="spacingAndGlyphs" stroke="#111" stroke-width="0.35">NK</text>
<line x1="325.4" y1="375.85" x2="325.4" y2="379.65" stroke="#000" stroke-width="1.3" stroke-linecap="butt"/>
<text x="325.4" y="390.2" font-size="9.6" font-weight="bold" text-anchor="middle" fill="#111" font-family='"Liberation Sans", sans-serif' textLength="14.4" lengthAdjust="spacingAndGlyphs" stroke="#111" stroke-width="0.35">MiR</text>
<line x1="364.7" y1="375.85" x2="364.7" y2="379.65" stroke="#000" stroke-width="1.3" stroke-linecap="butt"/>
<text x="364.7" y="390.2" font-size="9.6" font-weight="bold" text-anchor="middle" fill="#111" font-family='"Liberation Sans", sans-serif' textLength="18.2" lengthAdjust="spacingAndGlyphs" stroke="#111" stroke-width="0.35">MoR</text>
<line x1="403.5" y1="375.85" x2="403.5" y2="379.65" stroke="#000" stroke-width="1.3" stroke-linecap="butt"/>
<text x="403.5" y="390.2" font-size="9.6" font-weight="bold" text-anchor="middle" fill="#111" font-family='"Liberation Sans", sans-serif' textLength="11.4" lengthAdjust="spacingAndGlyphs" stroke="#111" stroke-width="0.35">SR</text>
<line x1="286.2" y1="247.6" x2="404" y2="247.6" stroke="#a2a2a2" stroke-width="1" stroke-linecap="butt"/>
<line x1="325.4" y1="258.3" x2="404" y2="258.3" stroke="#a2a2a2" stroke-width="1" stroke-linecap="butt"/>
<line x1="286.2" y1="269.2" x2="364.6" y2="269.2" stroke="#a2a2a2" stroke-width="1" stroke-linecap="butt"/>
<line x1="286.2" y1="282.6" x2="323.4" y2="282.6" stroke="#a2a2a2" stroke-width="1" stroke-linecap="butt"/>
<line x1="327.9" y1="282.6" x2="362.4" y2="282.6" stroke="#a2a2a2" stroke-width="1" stroke-linecap="butt"/>
<line x1="366.8" y1="282.6" x2="404" y2="282.6" stroke="#a2a2a2" stroke-width="1" stroke-linecap="butt"/>
<circle cx="339.2" cy="241.3" r="1.42" fill="#111"/>
<line x1="339.2" y1="239.4" x2="339.2" y2="243.2" stroke="#111" stroke-width="0.9" stroke-linecap="butt"/>
<line x1="340.85" y1="240.35" x2="337.55" y2="242.25" stroke="#111" stroke-width="0.9" stroke-linecap="butt"/>
<line x1="340.85" y1="242.25" x2="337.55" y2="240.35" stroke="#111" stroke-width="0.9" stroke-linecap="butt"/>
<circle cx="358.5" cy="252" r="1.42" fill="#111"/>
<line x1="358.5" y1="250.1" x2="358.5" y2="253.9" stroke="#111" stroke-width="0.9" stroke-linecap="butt"/>
<line x1="360.15" y1="251.05" x2="356.85" y2="252.95" stroke="#111" stroke-width="0.9" stroke-linecap="butt"/>
<line x1="360.15" y1="252.95" x2="356.85" y2="251.05" stroke="#111" stroke-width="0.9" stroke-linecap="butt"/>
<circle cx="319.7" cy="263.6" r="1.42" fill="#111"/>
<line x1="319.7" y1="261.7" x2="319.7" y2="265.5" stroke="#111" stroke-width="0.9" stroke-linecap="butt"/>
<line x1="321.35" y1="262.65" x2="318.05" y2="264.55" stroke="#111" stroke-width="0.9" stroke-linecap="butt"/>
<line x1="321.35" y1="264.55" x2="318.05" y2="262.65" stroke="#111" stroke-width="0.9" stroke-linecap="butt"/>
<circle cx="298.9" cy="276.5" r="1.42" fill="#111"/>
<line x1="298.9" y1="274.6" x2="298.9" y2="278.4" stroke="#111" stroke-width="0.9" stroke-linecap="butt"/>
<line x1="300.55" y1="275.55" x2="297.25" y2="277.45" stroke="#111" stroke-width="0.9" stroke-linecap="butt"/>
<line x1="300.55" y1="277.45" x2="297.25" y2="275.55" stroke="#111" stroke-width="0.9" stroke-linecap="butt"/>
<text x="345.1" y="277.51" font-size="8.3" font-weight="normal" text-anchor="middle" fill="#333" font-family='"Liberation Sans", sans-serif' textLength="7.3" lengthAdjust="spacingAndGlyphs" stroke="#333" stroke-width="0.25">ns</text>
<circle cx="378.9" cy="276.5" r="1.42" fill="#111"/>
<line x1="378.9" y1="274.6" x2="378.9" y2="278.4" stroke="#111" stroke-width="0.9" stroke-linecap="butt"/>
<line x1="380.55" y1="275.55" x2="377.25" y2="277.45" stroke="#111" stroke-width="0.9" stroke-linecap="butt"/>
<line x1="380.55" y1="277.45" x2="377.25" y2="275.55" stroke="#111" stroke-width="0.9" stroke-linecap="butt"/>
<text transform="translate(235.5,317.9) rotate(-90)" text-anchor="middle" font-family='"Liberation Sans", sans-serif' font-size="9.3" font-weight="bold" fill="#111" textLength="12.3" lengthAdjust="spacingAndGlyphs" stroke="#111" stroke-width="0.4">Hu</text>
<text x="278.6" y="420.3" font-family='"Liberation Sans", sans-serif' font-size="16" font-weight="bold" fill="#111" stroke="#111" stroke-width="0.35" textLength="17.5" lengthAdjust="spacingAndGlyphs">(e)</text><text x="330.7" y="419.5" font-family='"Liberation Serif", serif' font-size="16.3" font-weight="bold" fill="#111" stroke="#111" stroke-width="0.25" textLength="18.4" lengthAdjust="spacingAndGlyphs">Hu</text><text x="350.4" y="424.5" font-family='"Liberation Serif", serif' font-size="11.9" font-weight="bold" fill="#111" stroke="#111" stroke-width="0.3" textLength="16.3" lengthAdjust="spacingAndGlyphs">RC</text>
</g>
<g>
<rect x="510.1" y="295.1" width="23" height="83.3" fill="#450155" stroke="#000" stroke-width="1.9"/>
<rect x="548" y="299.2" width="22.7" height="79.2" fill="#434788" stroke="#000" stroke-width="1.9"/>
<rect x="586" y="301.5" width="22.8" height="76.9" fill="#2d778c" stroke="#000" stroke-width="1.9"/>
<rect x="623.8" y="326.6" width="23.2" height="51.8" fill="#22a884" stroke="#000" stroke-width="1.9"/>
<line x1="521.6" y1="282.4" x2="521.6" y2="304.8" stroke="#000" stroke-width="1.5" stroke-linecap="butt"/>
<line x1="514.8" y1="282.4" x2="528.4" y2="282.4" stroke="#000" stroke-width="1.5" stroke-linecap="butt"/>
<line x1="514.8" y1="304.8" x2="528.4" y2="304.8" stroke="#000" stroke-width="1.5" stroke-linecap="butt"/>
<line x1="559.5" y1="289.6" x2="559.5" y2="306.2" stroke="#000" stroke-width="1.5" stroke-linecap="butt"/>
<line x1="552.7" y1="289.6" x2="566.3" y2="289.6" stroke="#000" stroke-width="1.5" stroke-linecap="butt"/>
<line x1="552.7" y1="306.2" x2="566.3" y2="306.2" stroke="#000" stroke-width="1.5" stroke-linecap="butt"/>
<line x1="597.4" y1="291.2" x2="597.4" y2="309.3" stroke="#000" stroke-width="1.5" stroke-linecap="butt"/>
<line x1="590.6" y1="291.2" x2="604.2" y2="291.2" stroke="#000" stroke-width="1.5" stroke-linecap="butt"/>
<line x1="590.6" y1="309.3" x2="604.2" y2="309.3" stroke="#000" stroke-width="1.5" stroke-linecap="butt"/>
<line x1="635.1" y1="314.4" x2="635.1" y2="335.8" stroke="#000" stroke-width="1.5" stroke-linecap="butt"/>
<line x1="628.3" y1="314.4" x2="641.9" y2="314.4" stroke="#000" stroke-width="1.5" stroke-linecap="butt"/>
<line x1="628.3" y1="335.8" x2="641.9" y2="335.8" stroke="#000" stroke-width="1.5" stroke-linecap="butt"/>
<line x1="496.5" y1="265.2" x2="496.5" y2="379" stroke="#000" stroke-width="1.5" stroke-linecap="butt"/>
<line x1="496.5" y1="378.4" x2="660.3" y2="378.4" stroke="#000" stroke-width="1.5" stroke-linecap="butt"/>
<line x1="492.5" y1="265.8" x2="496.5" y2="265.8" stroke="#000" stroke-width="1.3" stroke-linecap="butt"/>
<text x="489.8" y="268.85" font-size="9.3" font-weight="normal" text-anchor="end" fill="#2a2a2a" font-family='"Liberation Sans", sans-serif' textLength="13.2" lengthAdjust="spacingAndGlyphs" stroke="#2a2a2a" stroke-width="0.25">100</text>
<line x1="492.5" y1="288.3" x2="496.5" y2="288.3" stroke="#000" stroke-width="1.3" stroke-linecap="butt"/>
<text x="489.8" y="291.35" font-size="9.3" font-weight="normal" text-anchor="end" fill="#2a2a2a" font-family='"Liberation Sans", sans-serif' textLength="8.8" lengthAdjust="spacingAndGlyphs" stroke="#2a2a2a" stroke-width="0.25">80</text>
<line x1="492.5" y1="310.6" x2="496.5" y2="310.6" stroke="#000" stroke-width="1.3" stroke-linecap="butt"/>
<text x="489.8" y="313.65" font-size="9.3" font-weight="normal" text-anchor="end" fill="#2a2a2a" font-family='"Liberation Sans", sans-serif' textLength="8.8" lengthAdjust="spacingAndGlyphs" stroke="#2a2a2a" stroke-width="0.25">60</text>
<line x1="492.5" y1="333" x2="496.5" y2="333" stroke="#000" stroke-width="1.3" stroke-linecap="butt"/>
<text x="489.8" y="336.05" font-size="9.3" font-weight="normal" text-anchor="end" fill="#2a2a2a" font-family='"Liberation Sans", sans-serif' textLength="8.8" lengthAdjust="spacingAndGlyphs" stroke="#2a2a2a" stroke-width="0.25">40</text>
<line x1="492.5" y1="355.6" x2="496.5" y2="355.6" stroke="#000" stroke-width="1.3" stroke-linecap="butt"/>
<text x="489.8" y="358.65" font-size="9.3" font-weight="normal" text-anchor="end" fill="#2a2a2a" font-family='"Liberation Sans", sans-serif' textLength="8.8" lengthAdjust="spacingAndGlyphs" stroke="#2a2a2a" stroke-width="0.25">20</text>
<line x1="492.5" y1="378.4" x2="496.5" y2="378.4" stroke="#000" stroke-width="1.3" stroke-linecap="butt"/>
<text x="489.8" y="381.45" font-size="9.3" font-weight="normal" text-anchor="end" fill="#2a2a2a" font-family='"Liberation Sans", sans-serif' textLength="4.9" lengthAdjust="spacingAndGlyphs" stroke="#2a2a2a" stroke-width="0.25">0</text>
<line x1="521.4" y1="378.4" x2="521.4" y2="382.2" stroke="#000" stroke-width="1.3" stroke-linecap="butt"/>
<text x="521.4" y="392.3" font-size="9.6" font-weight="bold" text-anchor="middle" fill="#111" font-family='"Liberation Sans", sans-serif' textLength="11.2" lengthAdjust="spacingAndGlyphs" stroke="#111" stroke-width="0.35">NK</text>
<line x1="559.5" y1="378.4" x2="559.5" y2="382.2" stroke="#000" stroke-width="1.3" stroke-linecap="butt"/>
<text x="559.5" y="392.3" font-size="9.6" font-weight="bold" text-anchor="middle" fill="#111" font-family='"Liberation Sans", sans-serif' textLength="14.4" lengthAdjust="spacingAndGlyphs" stroke="#111" stroke-width="0.35">MiR</text>
<line x1="597" y1="378.4" x2="597" y2="382.2" stroke="#000" stroke-width="1.3" stroke-linecap="butt"/>
<text x="597" y="392.3" font-size="9.6" font-weight="bold" text-anchor="middle" fill="#111" font-family='"Liberation Sans", sans-serif' textLength="17.3" lengthAdjust="spacingAndGlyphs" stroke="#111" stroke-width="0.35">MoR</text>
<line x1="634.9" y1="378.4" x2="634.9" y2="382.2" stroke="#000" stroke-width="1.3" stroke-linecap="butt"/>
<text x="634.9" y="392.3" font-size="9.6" font-weight="bold" text-anchor="middle" fill="#111" font-family='"Liberation Sans", sans-serif' textLength="10.6" lengthAdjust="spacingAndGlyphs" stroke="#111" stroke-width="0.35">SR</text>
<line x1="521.4" y1="244.3" x2="634.9" y2="244.3" stroke="#a6a6a6" stroke-width="1" stroke-linecap="butt"/>
<line x1="559.5" y1="254" x2="634.9" y2="254" stroke="#a6a6a6" stroke-width="1" stroke-linecap="butt"/>
<line x1="521.4" y1="265.8" x2="597.3" y2="265.8" stroke="#a6a6a6" stroke-width="1" stroke-linecap="butt"/>
<line x1="521.4" y1="277.8" x2="556.8" y2="277.8" stroke="#a6a6a6" stroke-width="1" stroke-linecap="butt"/>
<line x1="561.7" y1="277.8" x2="595.3" y2="277.8" stroke="#a6a6a6" stroke-width="1" stroke-linecap="butt"/>
<line x1="599.2" y1="277.8" x2="634.9" y2="277.8" stroke="#a6a6a6" stroke-width="1" stroke-linecap="butt"/>
<circle cx="572.4" cy="238.2" r="1.42" fill="#111"/>
<line x1="572.4" y1="236.3" x2="572.4" y2="240.1" stroke="#111" stroke-width="0.9" stroke-linecap="butt"/>
<line x1="574.05" y1="237.25" x2="570.75" y2="239.15" stroke="#111" stroke-width="0.9" stroke-linecap="butt"/>
<line x1="574.05" y1="239.15" x2="570.75" y2="237.25" stroke="#111" stroke-width="0.9" stroke-linecap="butt"/>
<circle cx="591.2" cy="248.4" r="1.42" fill="#111"/>
<line x1="591.2" y1="246.5" x2="591.2" y2="250.3" stroke="#111" stroke-width="0.9" stroke-linecap="butt"/>
<line x1="592.85" y1="247.45" x2="589.55" y2="249.35" stroke="#111" stroke-width="0.9" stroke-linecap="butt"/>
<line x1="592.85" y1="249.35" x2="589.55" y2="247.45" stroke="#111" stroke-width="0.9" stroke-linecap="butt"/>
<circle cx="559" cy="258.6" r="1.88" fill="#111"/>
<line x1="559" y1="256.1" x2="559" y2="261.1" stroke="#111" stroke-width="0.9" stroke-linecap="butt"/>
<line x1="561.17" y1="257.35" x2="556.83" y2="259.85" stroke="#111" stroke-width="0.9" stroke-linecap="butt"/>
<line x1="561.17" y1="259.85" x2="556.83" y2="257.35" stroke="#111" stroke-width="0.9" stroke-linecap="butt"/>
<text x="539.25" y="273.08" font-size="8" font-weight="normal" text-anchor="middle" fill="#333" font-family='"Liberation Sans", sans-serif' textLength="7.1" lengthAdjust="spacingAndGlyphs" stroke="#333" stroke-width="0.25">ns</text>
<text x="578.2" y="273.08" font-size="8" font-weight="normal" text-anchor="middle" fill="#333" font-family='"Liberation Sans", sans-serif' textLength="7.1" lengthAdjust="spacingAndGlyphs" stroke="#333" stroke-width="0.25">ns</text>
<circle cx="611.6" cy="271.5" r="1.42" fill="#111"/>
<line x1="611.6" y1="269.6" x2="611.6" y2="273.4" stroke="#111" stroke-width="0.9" stroke-linecap="butt"/>
<line x1="613.25" y1="270.55" x2="609.95" y2="272.45" stroke="#111" stroke-width="0.9" stroke-linecap="butt"/>
<line x1="613.25" y1="272.45" x2="609.95" y2="270.55" stroke="#111" stroke-width="0.9" stroke-linecap="butt"/>
<text transform="translate(472.3,321.7) rotate(-90)" text-anchor="middle" font-family='"Liberation Sans", sans-serif' font-size="9" font-weight="bold" fill="#111" textLength="12.4" lengthAdjust="spacingAndGlyphs" stroke="#111" stroke-width="0.4">Hu</text>
<text x="513.7" y="423" font-family='"Liberation Sans", sans-serif' font-size="16" font-weight="bold" fill="#111" stroke="#111" stroke-width="0.35" textLength="15.7" lengthAdjust="spacingAndGlyphs">(f)</text><text x="564.7" y="420.8" font-family='"Liberation Serif", serif' font-size="16.3" font-weight="bold" fill="#111" stroke="#111" stroke-width="0.25" textLength="18.1" lengthAdjust="spacingAndGlyphs">Hu</text><text x="584.4" y="425.9" font-family='"Liberation Serif", serif' font-size="11.9" font-weight="bold" fill="#111" stroke="#111" stroke-width="0.3" textLength="17.3" lengthAdjust="spacingAndGlyphs">RM</text>
</g>
</svg>
</body></html>
